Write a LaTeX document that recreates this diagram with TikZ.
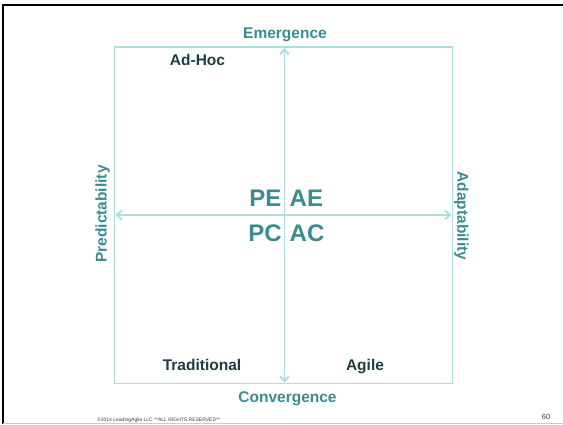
\documentclass[tikz,border=0pt]{standalone}
\usepackage{fontspec}
\setmainfont{Liberation Sans}
\usetikzlibrary{arrows.meta}
\definecolor{axisline}{RGB}{172,221,223}
\definecolor{axislabel}{RGB}{58,140,143}
\definecolor{quadlabel}{RGB}{28,62,64}
\definecolor{footer}{RGB}{60,60,60}
\tikzset{
  axislab/.style={text=axislabel,font=\fontsize{15.5}{17}\selectfont\bfseries,inner sep=0pt},
  quadlab/.style={text=quadlabel,font=\fontsize{15.5}{17}\selectfont\bfseries,inner sep=0pt,anchor=base},
  biglab/.style={text=axislabel,font=\fontsize{24}{26}\selectfont\bfseries,inner sep=0pt},
  axisarrow/.style={draw=axisline,line width=1.8pt,{Straight Barb[length=5pt,width=9pt]}-{Straight Barb[length=5pt,width=9pt]}},
}
\begin{document}
\begin{tikzpicture}[x=1pt,y=-1pt]
\useasboundingbox (0,0) rectangle (563,424);
\fill[white] (0,0) rectangle (563,424);
% slide frame
\draw[black,line width=2pt] (3,5) -- (563,5);
\draw[black,line width=2pt] (3,4) -- (3,424);
\draw[gray!40,line width=0.8pt] (3,423) -- (563,423);
% quadrant box
\draw[axisline,line width=1.8pt] (114.5,47) rectangle (452.5,383.5);
\coordinate (L) at (115.5,215);
\coordinate (R) at (451.5,215);
\coordinate (T) at (284.5,48);
\coordinate (B) at (284.5,382.5);
\draw[axisarrow] (L) -- (R);
\draw[axisarrow] (B) -- (T);
% axis labels
\node[axislab,anchor=base] (em) at (285,38.5) {Emergence};
\node[axislab,anchor=base] (co) at (287.5,402.5) {Convergence};
\node[axislab,rotate=90] (pr) at (102.5,214) {Predictability};
\node[axislab,rotate=-90] (ad) at (461.5,216) {Adaptability};
% quadrant labels
\node[quadlab] (adhoc) at (197.5,65) {Ad-Hoc};
\node[quadlab] (trad) at (202,370) {Traditional};
\node[quadlab] (agile) at (365,370) {Agile};
% centre
\node[biglab,anchor=east] (pe) at (281.5,198) {PE};
\node[biglab,anchor=west] (ae) at (289.5,198) {AE};
\node[biglab,anchor=east] (pc) at (282,233) {PC};
\node[biglab,anchor=west] (ac) at (289.5,233) {AC};
% footer
\node[text=footer,font=\fontsize{5}{6}\selectfont,inner sep=0pt,anchor=west] (copy) at (97,420.5) {©2014 LeadingAgile LLC **ALL RIGHTS RESERVED**};
\node[text=footer,font=\fontsize{7.5}{9}\selectfont,inner sep=0pt] (pg) at (546,416.5) {60};
\end{tikzpicture}
\end{document}
